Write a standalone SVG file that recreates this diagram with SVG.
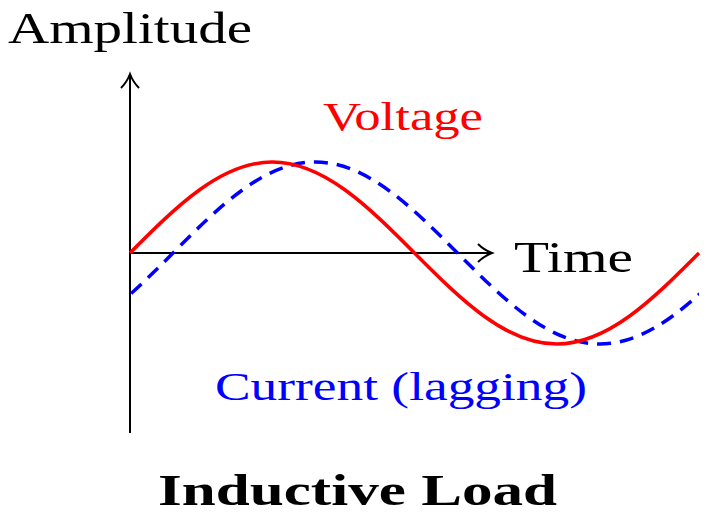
<svg xmlns="http://www.w3.org/2000/svg" width="711" height="521" viewBox="0 0 711 521">
<style>
text{font-family:"Liberation Serif","DejaVu Serif",serif}
.ax{stroke:#000;stroke-width:2;fill:none}
.v{stroke:#f00;stroke-width:3.5;fill:none}
.c{stroke:#00f;stroke-width:3.5;fill:none;stroke-dasharray:14 9}
</style>
<defs><clipPath id="cl"><rect x="130" y="0" width="569" height="521"/></clipPath></defs>
<rect width="711" height="521" fill="#fff"/>
<g id="axes">
<line class="ax" x1="130" y1="433" x2="130" y2="75"/>
<path class="ax" d="M121,88 Q127,82 130,74 Q133,82 139,88"/>
<line class="ax" x1="130" y1="253" x2="491" y2="253"/>
<path class="ax" d="M478,244 Q484,250 492,253 Q484,256 478,262"/>
</g>
<g id="current" clip-path="url(#cl)">
<path class="c" d="M30.75,344 C81.95,344 126.6,299.6 173,253 S264.05,162 315.25,162 S411.1,206.4 457.5,253 S548.55,344 599.75,344 S695.6,299.6 742,253"/>
</g>
<g id="voltage">
<path class="v" d="M130,253 C176.4,206.4 221.05,162 272.25,162 S368.1,206.4 414.5,253 S505.55,344 556.75,344 S652.6,299.6 699,253"/>
</g>
<g id="labels">
<text x="8" y="43" font-size="44" textLength="244" lengthAdjust="spacingAndGlyphs">Amplitude</text>
<text x="514" y="272" font-size="44" textLength="119" lengthAdjust="spacingAndGlyphs">Time</text>
<text x="323" y="130" font-size="40" fill="#f00" textLength="160" lengthAdjust="spacingAndGlyphs">Voltage</text>
<text x="215" y="400" font-size="40" fill="#00f" textLength="372" lengthAdjust="spacingAndGlyphs">Current (lagging)</text>
<text x="158" y="505" font-size="44" font-weight="bold" textLength="399" lengthAdjust="spacingAndGlyphs">Inductive Load</text>
</g>
</svg>
